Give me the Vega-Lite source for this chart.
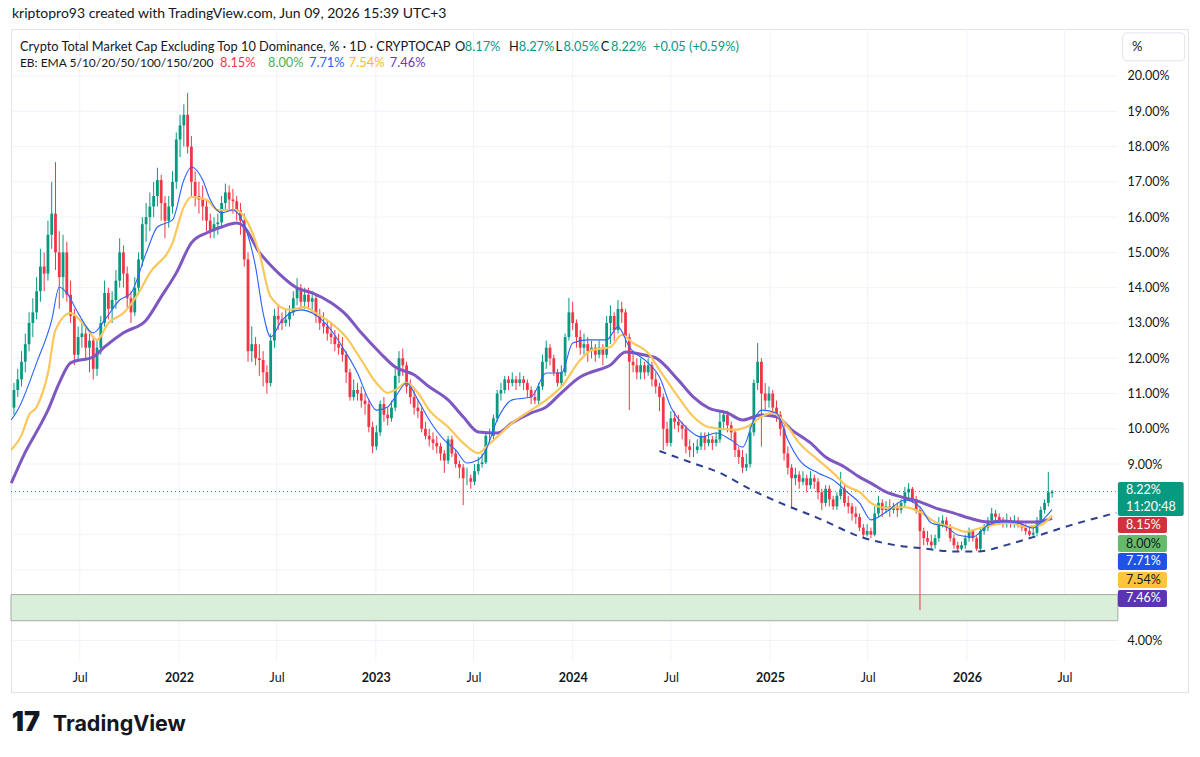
{
  "$schema": "https://vega.github.io/schema/vega-lite/v6.json",
  "width": 1177,
  "height": 663,
  "autosize": {"type": "none"},
  "padding": {"left": 11, "top": 29, "right": 12, "bottom": 65},
  "background": "#ffffff",
  "config": {"view": {"stroke": "#e0e3eb"}, "font": "Lato"},
  "title": {
    "text": "kriptopro93 created with TradingView.com, Jun 09, 2026 15:39 UTC+3",
    "anchor": "start", "frame": "group", "offset": 8, "dx": 1,
    "fontSize": 14, "fontWeight": "normal", "color": "#131722", "font": "Lato"
  },
  "datasets": {
    "hgrid": [{"v":4},{"v":5},{"v":6},{"v":7},{"v":8},{"v":9},{"v":10},{"v":11},{"v":12},{"v":13},{"v":14},{"v":15},{"v":16},{"v":17},{"v":18},{"v":19},{"v":20}],
    "vgrid": [{"t":"2021-07-01"},{"t":"2022-01-01"},{"t":"2022-07-01"},{"t":"2023-01-01"},{"t":"2023-07-01"},{"t":"2024-01-01"},{"t":"2024-07-01"},{"t":"2025-01-01"},{"t":"2025-07-01"},{"t":"2026-01-01"},{"t":"2026-07-01"}],
    "candles": [
      {"d":"2021-03-01","o":10.6,"h":11.3,"l":10.4,"c":11.1},
      {"d":"2021-03-08","o":11.1,"h":11.7,"l":10.9,"c":11.4},
      {"d":"2021-03-15","o":11.4,"h":12.2,"l":11.2,"c":11.9},
      {"d":"2021-03-22","o":11.9,"h":12.7,"l":11.6,"c":12.4},
      {"d":"2021-03-29","o":12.4,"h":13.3,"l":12.2,"c":13.0},
      {"d":"2021-04-05","o":13.0,"h":13.7,"l":12.6,"c":13.3},
      {"d":"2021-04-12","o":13.3,"h":14.3,"l":13.1,"c":13.9},
      {"d":"2021-04-19","o":13.9,"h":15.1,"l":13.6,"c":14.6},
      {"d":"2021-04-26","o":14.6,"h":15.0,"l":13.9,"c":14.4},
      {"d":"2021-05-03","o":14.4,"h":15.9,"l":14.2,"c":15.5},
      {"d":"2021-05-10","o":15.5,"h":17.0,"l":15.1,"c":16.1},
      {"d":"2021-05-17","o":16.1,"h":17.56,"l":14.5,"c":15.0},
      {"d":"2021-05-24","o":15.0,"h":15.6,"l":13.4,"c":14.3},
      {"d":"2021-05-31","o":14.3,"h":15.5,"l":13.7,"c":15.0},
      {"d":"2021-06-07","o":15.0,"h":15.3,"l":13.6,"c":13.8},
      {"d":"2021-06-14","o":13.8,"h":14.2,"l":13.0,"c":13.2},
      {"d":"2021-06-21","o":13.2,"h":13.4,"l":11.8,"c":12.1},
      {"d":"2021-06-28","o":12.1,"h":12.9,"l":11.9,"c":12.6},
      {"d":"2021-07-05","o":12.6,"h":13.1,"l":12.3,"c":12.7},
      {"d":"2021-07-12","o":12.7,"h":12.9,"l":12.0,"c":12.3},
      {"d":"2021-07-19","o":12.3,"h":12.8,"l":11.6,"c":12.5},
      {"d":"2021-07-26","o":12.5,"h":12.6,"l":11.4,"c":11.7},
      {"d":"2021-08-02","o":11.7,"h":12.5,"l":11.5,"c":12.3},
      {"d":"2021-08-09","o":12.3,"h":13.2,"l":12.1,"c":13.0},
      {"d":"2021-08-16","o":13.0,"h":14.2,"l":12.9,"c":13.85},
      {"d":"2021-08-23","o":13.85,"h":14.0,"l":13.1,"c":13.4},
      {"d":"2021-08-30","o":13.4,"h":13.9,"l":13.0,"c":13.65},
      {"d":"2021-09-06","o":13.65,"h":14.5,"l":13.4,"c":14.2},
      {"d":"2021-09-13","o":14.2,"h":15.4,"l":14.0,"c":15.0},
      {"d":"2021-09-20","o":15.0,"h":15.2,"l":14.0,"c":14.4},
      {"d":"2021-09-27","o":14.4,"h":14.6,"l":13.4,"c":13.7},
      {"d":"2021-10-04","o":13.7,"h":13.9,"l":13.0,"c":13.3},
      {"d":"2021-10-11","o":13.3,"h":14.3,"l":13.2,"c":14.0},
      {"d":"2021-10-18","o":14.0,"h":15.0,"l":13.8,"c":14.8},
      {"d":"2021-10-25","o":14.8,"h":16.0,"l":14.6,"c":15.8},
      {"d":"2021-11-01","o":15.8,"h":16.4,"l":15.3,"c":16.0},
      {"d":"2021-11-08","o":16.0,"h":16.7,"l":15.6,"c":16.3},
      {"d":"2021-11-15","o":16.3,"h":17.0,"l":16.0,"c":16.6},
      {"d":"2021-11-22","o":16.6,"h":17.4,"l":16.3,"c":17.05},
      {"d":"2021-11-29","o":17.05,"h":17.2,"l":15.9,"c":16.4},
      {"d":"2021-12-06","o":16.4,"h":16.6,"l":15.4,"c":15.9},
      {"d":"2021-12-13","o":15.9,"h":16.6,"l":15.7,"c":16.3},
      {"d":"2021-12-20","o":16.3,"h":17.3,"l":16.1,"c":17.0},
      {"d":"2021-12-27","o":17.0,"h":18.4,"l":16.8,"c":18.2},
      {"d":"2022-01-03","o":18.2,"h":18.9,"l":17.7,"c":18.6},
      {"d":"2022-01-10","o":18.6,"h":19.2,"l":18.0,"c":18.9},
      {"d":"2022-01-17","o":18.9,"h":19.52,"l":17.8,"c":18.0},
      {"d":"2022-01-24","o":18.0,"h":18.3,"l":16.6,"c":17.0},
      {"d":"2022-01-31","o":17.0,"h":17.3,"l":16.3,"c":16.6},
      {"d":"2022-02-07","o":16.6,"h":17.0,"l":16.1,"c":16.5},
      {"d":"2022-02-14","o":16.5,"h":16.9,"l":15.9,"c":16.3},
      {"d":"2022-02-21","o":16.3,"h":16.5,"l":15.6,"c":15.9},
      {"d":"2022-02-28","o":15.9,"h":16.1,"l":15.4,"c":15.6},
      {"d":"2022-03-07","o":15.6,"h":16.0,"l":15.4,"c":15.8},
      {"d":"2022-03-14","o":15.8,"h":16.1,"l":15.5,"c":15.85},
      {"d":"2022-03-21","o":15.85,"h":16.6,"l":15.7,"c":16.4},
      {"d":"2022-03-28","o":16.4,"h":16.95,"l":16.2,"c":16.7},
      {"d":"2022-04-04","o":16.7,"h":16.9,"l":16.2,"c":16.5},
      {"d":"2022-04-11","o":16.5,"h":16.8,"l":16.1,"c":16.45},
      {"d":"2022-04-18","o":16.45,"h":16.6,"l":15.9,"c":16.2},
      {"d":"2022-04-25","o":16.2,"h":16.4,"l":15.5,"c":15.9},
      {"d":"2022-05-02","o":15.9,"h":16.1,"l":14.6,"c":14.8},
      {"d":"2022-05-09","o":14.8,"h":15.0,"l":11.9,"c":12.2},
      {"d":"2022-05-16","o":12.2,"h":12.9,"l":11.9,"c":12.4},
      {"d":"2022-05-23","o":12.4,"h":12.6,"l":11.8,"c":12.0},
      {"d":"2022-05-30","o":12.0,"h":12.4,"l":11.5,"c":11.95},
      {"d":"2022-06-06","o":11.95,"h":12.2,"l":11.2,"c":11.6},
      {"d":"2022-06-13","o":11.6,"h":11.8,"l":11.0,"c":11.3},
      {"d":"2022-06-20","o":11.3,"h":12.7,"l":11.2,"c":12.5},
      {"d":"2022-06-27","o":12.5,"h":13.4,"l":12.3,"c":13.2},
      {"d":"2022-07-04","o":13.2,"h":13.5,"l":12.8,"c":13.1},
      {"d":"2022-07-11","o":13.1,"h":13.3,"l":12.8,"c":13.0},
      {"d":"2022-07-18","o":13.0,"h":13.4,"l":12.9,"c":13.1},
      {"d":"2022-07-25","o":13.1,"h":13.5,"l":12.9,"c":13.3},
      {"d":"2022-08-01","o":13.3,"h":13.9,"l":13.2,"c":13.7},
      {"d":"2022-08-08","o":13.7,"h":14.27,"l":13.5,"c":14.0},
      {"d":"2022-08-15","o":14.0,"h":14.1,"l":13.4,"c":13.6},
      {"d":"2022-08-22","o":13.6,"h":14.0,"l":13.4,"c":13.8},
      {"d":"2022-08-29","o":13.8,"h":14.0,"l":13.4,"c":13.6},
      {"d":"2022-09-05","o":13.6,"h":13.9,"l":13.3,"c":13.7},
      {"d":"2022-09-12","o":13.7,"h":13.8,"l":13.0,"c":13.2},
      {"d":"2022-09-19","o":13.2,"h":13.4,"l":12.8,"c":13.0},
      {"d":"2022-09-26","o":13.0,"h":13.3,"l":12.7,"c":12.9},
      {"d":"2022-10-03","o":12.9,"h":13.1,"l":12.5,"c":12.7},
      {"d":"2022-10-10","o":12.7,"h":13.0,"l":12.4,"c":12.6},
      {"d":"2022-10-17","o":12.6,"h":12.8,"l":12.2,"c":12.4},
      {"d":"2022-10-24","o":12.4,"h":12.7,"l":12.1,"c":12.3},
      {"d":"2022-10-31","o":12.3,"h":12.6,"l":11.9,"c":12.1},
      {"d":"2022-11-07","o":12.1,"h":12.2,"l":11.3,"c":11.6},
      {"d":"2022-11-14","o":11.6,"h":11.7,"l":10.8,"c":10.9},
      {"d":"2022-11-21","o":10.9,"h":11.4,"l":10.8,"c":11.1},
      {"d":"2022-11-28","o":11.1,"h":11.3,"l":10.8,"c":11.0},
      {"d":"2022-12-05","o":11.0,"h":11.2,"l":10.6,"c":10.8},
      {"d":"2022-12-12","o":10.8,"h":11.0,"l":10.4,"c":10.7},
      {"d":"2022-12-19","o":10.7,"h":10.8,"l":9.9,"c":10.05},
      {"d":"2022-12-26","o":10.05,"h":10.2,"l":9.31,"c":9.5},
      {"d":"2023-01-02","o":9.5,"h":10.1,"l":9.4,"c":9.9},
      {"d":"2023-01-09","o":9.9,"h":10.8,"l":9.8,"c":10.7},
      {"d":"2023-01-16","o":10.7,"h":10.9,"l":10.2,"c":10.4},
      {"d":"2023-01-23","o":10.4,"h":10.6,"l":10.1,"c":10.3},
      {"d":"2023-01-30","o":10.3,"h":10.8,"l":10.2,"c":10.6},
      {"d":"2023-02-06","o":10.6,"h":11.7,"l":10.5,"c":11.5},
      {"d":"2023-02-13","o":11.5,"h":12.2,"l":11.3,"c":12.0},
      {"d":"2023-02-20","o":12.0,"h":12.27,"l":11.5,"c":11.8},
      {"d":"2023-02-27","o":11.8,"h":11.9,"l":11.0,"c":11.2},
      {"d":"2023-03-06","o":11.2,"h":11.4,"l":10.7,"c":10.9},
      {"d":"2023-03-13","o":10.9,"h":11.1,"l":10.4,"c":10.6},
      {"d":"2023-03-20","o":10.6,"h":10.8,"l":10.3,"c":10.5},
      {"d":"2023-03-27","o":10.5,"h":10.6,"l":9.9,"c":10.0},
      {"d":"2023-04-03","o":10.0,"h":10.2,"l":9.7,"c":9.8},
      {"d":"2023-04-10","o":9.8,"h":10.0,"l":9.5,"c":9.7},
      {"d":"2023-04-17","o":9.7,"h":9.9,"l":9.4,"c":9.6},
      {"d":"2023-04-24","o":9.6,"h":9.8,"l":9.3,"c":9.5},
      {"d":"2023-05-01","o":9.5,"h":9.6,"l":9.1,"c":9.3},
      {"d":"2023-05-08","o":9.3,"h":9.4,"l":8.75,"c":9.1},
      {"d":"2023-05-15","o":9.1,"h":9.8,"l":9.0,"c":9.7},
      {"d":"2023-05-22","o":9.7,"h":9.8,"l":9.2,"c":9.3},
      {"d":"2023-05-29","o":9.3,"h":9.4,"l":8.9,"c":9.0},
      {"d":"2023-06-05","o":9.0,"h":9.1,"l":8.6,"c":8.9},
      {"d":"2023-06-12","o":8.9,"h":9.0,"l":7.84,"c":8.6},
      {"d":"2023-06-19","o":8.6,"h":8.9,"l":8.4,"c":8.6},
      {"d":"2023-06-26","o":8.6,"h":8.7,"l":8.3,"c":8.5},
      {"d":"2023-07-03","o":8.5,"h":9.0,"l":8.4,"c":8.8},
      {"d":"2023-07-10","o":8.8,"h":9.2,"l":8.7,"c":9.0},
      {"d":"2023-07-17","o":9.0,"h":9.3,"l":8.9,"c":9.05},
      {"d":"2023-07-24","o":9.05,"h":9.9,"l":9.0,"c":9.8},
      {"d":"2023-07-31","o":9.8,"h":10.0,"l":9.6,"c":9.8},
      {"d":"2023-08-07","o":9.8,"h":10.4,"l":9.7,"c":10.3},
      {"d":"2023-08-14","o":10.3,"h":11.1,"l":10.2,"c":11.0},
      {"d":"2023-08-21","o":11.0,"h":11.3,"l":10.8,"c":11.1},
      {"d":"2023-08-28","o":11.1,"h":11.5,"l":11.0,"c":11.4},
      {"d":"2023-09-04","o":11.4,"h":11.5,"l":11.1,"c":11.3},
      {"d":"2023-09-11","o":11.3,"h":11.6,"l":11.2,"c":11.4},
      {"d":"2023-09-18","o":11.4,"h":11.5,"l":11.1,"c":11.3},
      {"d":"2023-09-25","o":11.3,"h":11.6,"l":11.2,"c":11.4},
      {"d":"2023-10-02","o":11.4,"h":11.5,"l":11.1,"c":11.3},
      {"d":"2023-10-09","o":11.3,"h":11.4,"l":10.9,"c":11.1},
      {"d":"2023-10-16","o":11.1,"h":11.2,"l":10.7,"c":10.9},
      {"d":"2023-10-23","o":10.9,"h":11.1,"l":10.7,"c":10.8},
      {"d":"2023-10-30","o":10.8,"h":11.3,"l":10.7,"c":11.2},
      {"d":"2023-11-06","o":11.2,"h":12.1,"l":11.1,"c":11.9},
      {"d":"2023-11-13","o":11.9,"h":12.5,"l":11.7,"c":12.3},
      {"d":"2023-11-20","o":12.3,"h":12.4,"l":11.8,"c":12.0},
      {"d":"2023-11-27","o":12.0,"h":12.1,"l":11.5,"c":11.6},
      {"d":"2023-12-04","o":11.6,"h":11.7,"l":11.2,"c":11.3},
      {"d":"2023-12-11","o":11.3,"h":11.8,"l":11.2,"c":11.6},
      {"d":"2023-12-18","o":11.6,"h":12.7,"l":11.5,"c":12.6},
      {"d":"2023-12-25","o":12.6,"h":13.71,"l":12.5,"c":13.3},
      {"d":"2024-01-01","o":13.3,"h":13.6,"l":12.8,"c":13.0},
      {"d":"2024-01-08","o":13.0,"h":13.1,"l":12.3,"c":12.6},
      {"d":"2024-01-15","o":12.6,"h":12.8,"l":12.1,"c":12.3},
      {"d":"2024-01-22","o":12.3,"h":12.7,"l":12.1,"c":12.4},
      {"d":"2024-01-29","o":12.4,"h":12.6,"l":11.9,"c":12.2},
      {"d":"2024-02-05","o":12.2,"h":12.5,"l":12.0,"c":12.3},
      {"d":"2024-02-12","o":12.3,"h":12.4,"l":11.9,"c":12.1},
      {"d":"2024-02-19","o":12.1,"h":12.5,"l":12.0,"c":12.3},
      {"d":"2024-02-26","o":12.3,"h":12.4,"l":11.8,"c":12.1},
      {"d":"2024-03-04","o":12.1,"h":13.2,"l":12.0,"c":13.0},
      {"d":"2024-03-11","o":13.0,"h":13.5,"l":12.4,"c":13.2},
      {"d":"2024-03-18","o":13.2,"h":13.3,"l":12.5,"c":12.8},
      {"d":"2024-03-25","o":12.8,"h":13.65,"l":12.7,"c":13.4},
      {"d":"2024-04-01","o":13.4,"h":13.6,"l":13.0,"c":13.3},
      {"d":"2024-04-08","o":13.3,"h":13.4,"l":12.3,"c":12.6},
      {"d":"2024-04-15","o":12.6,"h":12.7,"l":10.53,"c":11.9},
      {"d":"2024-04-22","o":11.9,"h":12.2,"l":11.6,"c":11.8},
      {"d":"2024-04-29","o":11.8,"h":12.0,"l":11.4,"c":11.6},
      {"d":"2024-05-06","o":11.6,"h":12.0,"l":11.4,"c":11.8},
      {"d":"2024-05-13","o":11.8,"h":11.9,"l":11.4,"c":11.6},
      {"d":"2024-05-20","o":11.6,"h":12.0,"l":11.5,"c":11.8},
      {"d":"2024-05-27","o":11.8,"h":11.9,"l":11.2,"c":11.4},
      {"d":"2024-06-03","o":11.4,"h":11.6,"l":11.0,"c":11.2},
      {"d":"2024-06-10","o":11.2,"h":11.3,"l":10.5,"c":10.9},
      {"d":"2024-06-17","o":10.9,"h":11.0,"l":9.4,"c":10.0},
      {"d":"2024-06-24","o":10.0,"h":10.2,"l":9.5,"c":9.6},
      {"d":"2024-07-01","o":9.6,"h":10.5,"l":9.5,"c":10.3},
      {"d":"2024-07-08","o":10.3,"h":10.5,"l":10.0,"c":10.2},
      {"d":"2024-07-15","o":10.2,"h":10.4,"l":9.9,"c":10.1},
      {"d":"2024-07-22","o":10.1,"h":10.2,"l":9.7,"c":10.0},
      {"d":"2024-07-29","o":10.0,"h":10.1,"l":9.3,"c":9.5},
      {"d":"2024-08-05","o":9.5,"h":9.7,"l":9.2,"c":9.4},
      {"d":"2024-08-12","o":9.4,"h":9.6,"l":9.2,"c":9.4},
      {"d":"2024-08-19","o":9.4,"h":9.7,"l":9.3,"c":9.5},
      {"d":"2024-08-26","o":9.5,"h":9.9,"l":9.4,"c":9.8},
      {"d":"2024-09-02","o":9.8,"h":9.9,"l":9.4,"c":9.6},
      {"d":"2024-09-09","o":9.6,"h":9.9,"l":9.5,"c":9.7},
      {"d":"2024-09-16","o":9.7,"h":9.8,"l":9.4,"c":9.6},
      {"d":"2024-09-23","o":9.6,"h":9.9,"l":9.5,"c":9.7},
      {"d":"2024-09-30","o":9.7,"h":10.5,"l":9.6,"c":10.2},
      {"d":"2024-10-07","o":10.2,"h":10.5,"l":10.0,"c":10.4},
      {"d":"2024-10-14","o":10.4,"h":10.5,"l":9.9,"c":10.1},
      {"d":"2024-10-21","o":10.1,"h":10.2,"l":9.7,"c":9.9},
      {"d":"2024-10-28","o":9.9,"h":10.0,"l":9.2,"c":9.4},
      {"d":"2024-11-04","o":9.4,"h":9.5,"l":9.0,"c":9.2},
      {"d":"2024-11-11","o":9.2,"h":9.4,"l":8.75,"c":8.9},
      {"d":"2024-11-18","o":8.9,"h":9.3,"l":8.8,"c":9.0},
      {"d":"2024-11-25","o":9.0,"h":10.1,"l":8.9,"c":9.9},
      {"d":"2024-12-02","o":9.9,"h":11.4,"l":9.8,"c":11.3},
      {"d":"2024-12-09","o":11.3,"h":12.43,"l":11.1,"c":11.9},
      {"d":"2024-12-16","o":11.9,"h":12.0,"l":9.5,"c":11.0},
      {"d":"2024-12-23","o":11.0,"h":11.3,"l":10.5,"c":10.8},
      {"d":"2024-12-30","o":10.8,"h":11.2,"l":10.6,"c":11.0},
      {"d":"2025-01-06","o":11.0,"h":11.1,"l":10.4,"c":10.6},
      {"d":"2025-01-13","o":10.6,"h":10.8,"l":10.2,"c":10.4},
      {"d":"2025-01-20","o":10.4,"h":10.5,"l":9.8,"c":10.0},
      {"d":"2025-01-27","o":10.0,"h":10.1,"l":9.1,"c":9.3},
      {"d":"2025-02-03","o":9.3,"h":9.5,"l":8.7,"c":8.9},
      {"d":"2025-02-10","o":8.9,"h":9.0,"l":7.78,"c":8.6},
      {"d":"2025-02-17","o":8.6,"h":8.9,"l":8.4,"c":8.7},
      {"d":"2025-02-24","o":8.7,"h":8.8,"l":8.3,"c":8.5},
      {"d":"2025-03-03","o":8.5,"h":8.8,"l":8.4,"c":8.6},
      {"d":"2025-03-10","o":8.6,"h":8.7,"l":8.2,"c":8.4},
      {"d":"2025-03-17","o":8.4,"h":8.8,"l":8.3,"c":8.6},
      {"d":"2025-03-24","o":8.6,"h":8.7,"l":8.3,"c":8.5},
      {"d":"2025-03-31","o":8.5,"h":8.6,"l":8.0,"c":8.2},
      {"d":"2025-04-07","o":8.2,"h":8.3,"l":7.7,"c":7.9},
      {"d":"2025-04-14","o":7.9,"h":8.4,"l":7.8,"c":8.3},
      {"d":"2025-04-21","o":8.3,"h":8.4,"l":7.8,"c":8.0},
      {"d":"2025-04-28","o":8.0,"h":8.1,"l":7.7,"c":7.8},
      {"d":"2025-05-05","o":7.8,"h":8.2,"l":7.7,"c":8.1},
      {"d":"2025-05-12","o":8.1,"h":8.78,"l":8.0,"c":8.3},
      {"d":"2025-05-19","o":8.3,"h":8.4,"l":7.8,"c":7.9},
      {"d":"2025-05-26","o":7.9,"h":8.1,"l":7.6,"c":7.8},
      {"d":"2025-06-02","o":7.8,"h":7.9,"l":7.4,"c":7.6},
      {"d":"2025-06-09","o":7.6,"h":7.8,"l":7.3,"c":7.5},
      {"d":"2025-06-16","o":7.5,"h":7.6,"l":7.1,"c":7.2},
      {"d":"2025-06-23","o":7.2,"h":7.3,"l":6.9,"c":7.0},
      {"d":"2025-06-30","o":7.0,"h":7.3,"l":6.95,"c":7.1},
      {"d":"2025-07-07","o":7.1,"h":7.2,"l":6.9,"c":7.0},
      {"d":"2025-07-14","o":7.0,"h":7.8,"l":6.95,"c":7.6},
      {"d":"2025-07-21","o":7.6,"h":8.1,"l":7.5,"c":7.9},
      {"d":"2025-07-28","o":7.9,"h":8.0,"l":7.5,"c":7.7},
      {"d":"2025-08-04","o":7.7,"h":7.95,"l":7.6,"c":7.8},
      {"d":"2025-08-11","o":7.8,"h":8.0,"l":7.5,"c":7.7},
      {"d":"2025-08-18","o":7.7,"h":7.9,"l":7.6,"c":7.8},
      {"d":"2025-08-25","o":7.8,"h":7.9,"l":7.5,"c":7.7},
      {"d":"2025-09-01","o":7.7,"h":8.0,"l":7.6,"c":7.9},
      {"d":"2025-09-08","o":7.9,"h":8.35,"l":7.8,"c":8.2},
      {"d":"2025-09-15","o":8.2,"h":8.46,"l":8.0,"c":8.3},
      {"d":"2025-09-22","o":8.3,"h":8.35,"l":7.9,"c":8.0},
      {"d":"2025-09-29","o":8.0,"h":8.1,"l":7.6,"c":7.7},
      {"d":"2025-10-06","o":7.7,"h":7.8,"l":4.86,"c":7.1},
      {"d":"2025-10-13","o":7.1,"h":7.2,"l":6.7,"c":6.9},
      {"d":"2025-10-20","o":6.9,"h":7.1,"l":6.7,"c":6.8},
      {"d":"2025-10-27","o":6.8,"h":7.0,"l":6.6,"c":6.7},
      {"d":"2025-11-03","o":6.7,"h":7.0,"l":6.6,"c":6.9},
      {"d":"2025-11-10","o":6.9,"h":7.5,"l":6.8,"c":7.3},
      {"d":"2025-11-17","o":7.3,"h":7.55,"l":7.2,"c":7.4},
      {"d":"2025-11-24","o":7.4,"h":7.5,"l":7.1,"c":7.2},
      {"d":"2025-12-01","o":7.2,"h":7.3,"l":6.8,"c":6.9},
      {"d":"2025-12-08","o":6.9,"h":7.0,"l":6.6,"c":6.7},
      {"d":"2025-12-15","o":6.7,"h":6.8,"l":6.51,"c":6.6},
      {"d":"2025-12-22","o":6.6,"h":6.8,"l":6.55,"c":6.7},
      {"d":"2025-12-29","o":6.7,"h":7.0,"l":6.6,"c":6.9},
      {"d":"2026-01-05","o":6.9,"h":7.2,"l":6.8,"c":7.1},
      {"d":"2026-01-12","o":7.1,"h":7.15,"l":6.8,"c":6.9},
      {"d":"2026-01-19","o":6.9,"h":6.95,"l":6.54,"c":6.6},
      {"d":"2026-01-26","o":6.6,"h":7.2,"l":6.55,"c":7.1},
      {"d":"2026-02-02","o":7.1,"h":7.3,"l":7.0,"c":7.2},
      {"d":"2026-02-09","o":7.2,"h":7.5,"l":7.1,"c":7.4},
      {"d":"2026-02-16","o":7.4,"h":7.76,"l":7.3,"c":7.6},
      {"d":"2026-02-23","o":7.6,"h":7.7,"l":7.4,"c":7.5},
      {"d":"2026-03-02","o":7.5,"h":7.6,"l":7.3,"c":7.4},
      {"d":"2026-03-09","o":7.4,"h":7.5,"l":7.2,"c":7.3},
      {"d":"2026-03-16","o":7.3,"h":7.6,"l":7.2,"c":7.4},
      {"d":"2026-03-23","o":7.4,"h":7.5,"l":7.2,"c":7.3},
      {"d":"2026-03-30","o":7.3,"h":7.55,"l":7.2,"c":7.4},
      {"d":"2026-04-06","o":7.4,"h":7.5,"l":7.2,"c":7.3},
      {"d":"2026-04-13","o":7.3,"h":7.4,"l":7.1,"c":7.2},
      {"d":"2026-04-20","o":7.2,"h":7.3,"l":7.0,"c":7.1},
      {"d":"2026-04-27","o":7.1,"h":7.2,"l":6.95,"c":7.0},
      {"d":"2026-05-04","o":7.0,"h":7.2,"l":6.93,"c":7.05},
      {"d":"2026-05-11","o":7.05,"h":7.5,"l":6.95,"c":7.4},
      {"d":"2026-05-18","o":7.4,"h":7.8,"l":7.3,"c":7.7},
      {"d":"2026-05-25","o":7.7,"h":8.0,"l":7.6,"c":7.9},
      {"d":"2026-06-01","o":7.9,"h":8.78,"l":7.8,"c":8.2},
      {"d":"2026-06-08","o":8.17,"h":8.27,"l":8.05,"c":8.22}
    ],
    "ema": [
      {"s":"EMA 20","d":"2021-02-24","v":10.25},{"s":"EMA 20","d":"2021-03-08","v":10.53},{"s":"EMA 20","d":"2021-04-12","v":11.87},{"s":"EMA 20","d":"2021-05-10","v":13.08},{"s":"EMA 20","d":"2021-05-24","v":14.02},{"s":"EMA 20","d":"2021-06-07","v":13.85},{"s":"EMA 20","d":"2021-06-28","v":13.28},{"s":"EMA 20","d":"2021-07-26","v":12.72},{"s":"EMA 20","d":"2021-08-16","v":13.08},{"s":"EMA 20","d":"2021-09-13","v":13.65},{"s":"EMA 20","d":"2021-10-04","v":13.85},{"s":"EMA 20","d":"2021-11-01","v":14.98},{"s":"EMA 20","d":"2021-11-22","v":15.72},{"s":"EMA 20","d":"2021-12-20","v":15.92},{"s":"EMA 20","d":"2022-01-10","v":17.05},{"s":"EMA 20","d":"2022-01-24","v":17.42},{"s":"EMA 20","d":"2022-02-14","v":17.05},{"s":"EMA 20","d":"2022-02-28","v":16.49},{"s":"EMA 20","d":"2022-03-21","v":16.12},{"s":"EMA 20","d":"2022-04-11","v":16.2},{"s":"EMA 20","d":"2022-04-25","v":16.0},{"s":"EMA 20","d":"2022-05-23","v":14.59},{"s":"EMA 20","d":"2022-06-06","v":13.28},{"s":"EMA 20","d":"2022-06-20","v":12.6},{"s":"EMA 20","d":"2022-07-11","v":13.08},{"s":"EMA 20","d":"2022-08-15","v":13.37},{"s":"EMA 20","d":"2022-09-05","v":13.28},{"s":"EMA 20","d":"2022-10-10","v":12.8},{"s":"EMA 20","d":"2022-10-31","v":12.32},{"s":"EMA 20","d":"2022-11-28","v":11.58},{"s":"EMA 20","d":"2022-12-19","v":10.82},{"s":"EMA 20","d":"2023-01-02","v":10.53},{"s":"EMA 20","d":"2023-01-23","v":10.62},{"s":"EMA 20","d":"2023-02-06","v":10.9},{"s":"EMA 20","d":"2023-02-27","v":11.3},{"s":"EMA 20","d":"2023-03-20","v":10.82},{"s":"EMA 20","d":"2023-04-10","v":10.25},{"s":"EMA 20","d":"2023-05-08","v":9.68},{"s":"EMA 20","d":"2023-05-29","v":9.4},{"s":"EMA 20","d":"2023-06-19","v":9.03},{"s":"EMA 20","d":"2023-07-10","v":9.12},{"s":"EMA 20","d":"2023-07-24","v":9.4},{"s":"EMA 20","d":"2023-08-14","v":10.25},{"s":"EMA 20","d":"2023-09-11","v":10.82},{"s":"EMA 20","d":"2023-10-16","v":10.9},{"s":"EMA 20","d":"2023-11-13","v":11.58},{"s":"EMA 20","d":"2023-12-11","v":11.58},{"s":"EMA 20","d":"2024-01-01","v":12.43},{"s":"EMA 20","d":"2024-01-29","v":12.52},{"s":"EMA 20","d":"2024-03-04","v":12.52},{"s":"EMA 20","d":"2024-03-25","v":12.89},{"s":"EMA 20","d":"2024-04-15","v":12.32},{"s":"EMA 20","d":"2024-05-20","v":11.87},{"s":"EMA 20","d":"2024-06-10","v":11.47},{"s":"EMA 20","d":"2024-07-01","v":10.62},{"s":"EMA 20","d":"2024-07-29","v":10.05},{"s":"EMA 20","d":"2024-08-26","v":9.77},{"s":"EMA 20","d":"2024-09-23","v":9.88},{"s":"EMA 20","d":"2024-10-21","v":9.68},{"s":"EMA 20","d":"2024-11-11","v":9.48},{"s":"EMA 20","d":"2024-12-02","v":10.25},{"s":"EMA 20","d":"2024-12-16","v":10.53},{"s":"EMA 20","d":"2025-01-13","v":10.45},{"s":"EMA 20","d":"2025-02-03","v":9.68},{"s":"EMA 20","d":"2025-02-24","v":9.12},{"s":"EMA 20","d":"2025-03-31","v":8.75},{"s":"EMA 20","d":"2025-04-28","v":8.55},{"s":"EMA 20","d":"2025-05-26","v":8.18},{"s":"EMA 20","d":"2025-06-16","v":7.9},{"s":"EMA 20","d":"2025-07-07","v":7.42},{"s":"EMA 20","d":"2025-08-04","v":7.64},{"s":"EMA 20","d":"2025-09-08","v":7.98},{"s":"EMA 20","d":"2025-10-06","v":7.78},{"s":"EMA 20","d":"2025-10-27","v":7.33},{"s":"EMA 20","d":"2025-11-24","v":7.22},{"s":"EMA 20","d":"2025-12-15","v":6.99},{"s":"EMA 20","d":"2026-01-12","v":6.93},{"s":"EMA 20","d":"2026-02-09","v":7.27},{"s":"EMA 20","d":"2026-03-09","v":7.36},{"s":"EMA 20","d":"2026-04-06","v":7.33},{"s":"EMA 20","d":"2026-05-04","v":7.19},{"s":"EMA 20","d":"2026-05-25","v":7.47},{"s":"EMA 20","d":"2026-06-08","v":7.71},
      {"s":"EMA 50","d":"2021-02-24","v":9.4},{"s":"EMA 50","d":"2021-03-15","v":9.82},{"s":"EMA 50","d":"2021-03-29","v":10.39},{"s":"EMA 50","d":"2021-04-12","v":10.62},{"s":"EMA 50","d":"2021-05-03","v":11.58},{"s":"EMA 50","d":"2021-05-17","v":12.8},{"s":"EMA 50","d":"2021-06-14","v":13.28},{"s":"EMA 50","d":"2021-07-12","v":12.89},{"s":"EMA 50","d":"2021-08-02","v":12.52},{"s":"EMA 50","d":"2021-08-23","v":13.0},{"s":"EMA 50","d":"2021-09-20","v":13.28},{"s":"EMA 50","d":"2021-10-18","v":13.85},{"s":"EMA 50","d":"2021-11-08","v":14.42},{"s":"EMA 50","d":"2021-12-20","v":15.27},{"s":"EMA 50","d":"2022-01-10","v":16.29},{"s":"EMA 50","d":"2022-01-24","v":16.57},{"s":"EMA 50","d":"2022-02-21","v":16.49},{"s":"EMA 50","d":"2022-03-14","v":16.2},{"s":"EMA 50","d":"2022-04-18","v":16.2},{"s":"EMA 50","d":"2022-05-09","v":15.83},{"s":"EMA 50","d":"2022-05-30","v":14.98},{"s":"EMA 50","d":"2022-06-20","v":13.74},{"s":"EMA 50","d":"2022-07-25","v":13.37},{"s":"EMA 50","d":"2022-08-22","v":13.45},{"s":"EMA 50","d":"2022-09-12","v":13.28},{"s":"EMA 50","d":"2022-10-10","v":13.0},{"s":"EMA 50","d":"2022-11-07","v":12.6},{"s":"EMA 50","d":"2022-12-05","v":11.95},{"s":"EMA 50","d":"2023-01-02","v":11.3},{"s":"EMA 50","d":"2023-01-23","v":11.02},{"s":"EMA 50","d":"2023-02-06","v":11.1},{"s":"EMA 50","d":"2023-02-27","v":11.3},{"s":"EMA 50","d":"2023-03-20","v":11.02},{"s":"EMA 50","d":"2023-04-10","v":10.53},{"s":"EMA 50","d":"2023-05-15","v":10.05},{"s":"EMA 50","d":"2023-06-12","v":9.6},{"s":"EMA 50","d":"2023-07-10","v":9.31},{"s":"EMA 50","d":"2023-07-24","v":9.48},{"s":"EMA 50","d":"2023-08-14","v":9.77},{"s":"EMA 50","d":"2023-09-11","v":10.17},{"s":"EMA 50","d":"2023-10-16","v":10.53},{"s":"EMA 50","d":"2023-11-13","v":10.82},{"s":"EMA 50","d":"2023-12-11","v":11.19},{"s":"EMA 50","d":"2024-01-15","v":11.95},{"s":"EMA 50","d":"2024-02-05","v":12.23},{"s":"EMA 50","d":"2024-03-11","v":12.32},{"s":"EMA 50","d":"2024-04-01","v":12.66},{"s":"EMA 50","d":"2024-04-22","v":12.43},{"s":"EMA 50","d":"2024-05-20","v":12.15},{"s":"EMA 50","d":"2024-06-10","v":11.67},{"s":"EMA 50","d":"2024-07-15","v":10.9},{"s":"EMA 50","d":"2024-08-12","v":10.34},{"s":"EMA 50","d":"2024-09-09","v":10.05},{"s":"EMA 50","d":"2024-10-28","v":9.97},{"s":"EMA 50","d":"2024-11-18","v":10.05},{"s":"EMA 50","d":"2024-12-16","v":10.34},{"s":"EMA 50","d":"2025-01-06","v":10.45},{"s":"EMA 50","d":"2025-02-03","v":10.05},{"s":"EMA 50","d":"2025-02-24","v":9.6},{"s":"EMA 50","d":"2025-03-31","v":9.12},{"s":"EMA 50","d":"2025-04-28","v":8.75},{"s":"EMA 50","d":"2025-05-26","v":8.35},{"s":"EMA 50","d":"2025-06-16","v":8.21},{"s":"EMA 50","d":"2025-07-07","v":7.9},{"s":"EMA 50","d":"2025-08-04","v":7.76},{"s":"EMA 50","d":"2025-09-08","v":7.78},{"s":"EMA 50","d":"2025-10-06","v":7.64},{"s":"EMA 50","d":"2025-11-03","v":7.36},{"s":"EMA 50","d":"2025-12-08","v":7.19},{"s":"EMA 50","d":"2025-12-29","v":7.08},{"s":"EMA 50","d":"2026-01-26","v":7.19},{"s":"EMA 50","d":"2026-02-16","v":7.27},{"s":"EMA 50","d":"2026-03-23","v":7.33},{"s":"EMA 50","d":"2026-04-20","v":7.22},{"s":"EMA 50","d":"2026-05-18","v":7.27},{"s":"EMA 50","d":"2026-06-08","v":7.54},
      {"s":"EMA 100","d":"2021-02-24","v":8.46},{"s":"EMA 100","d":"2021-03-22","v":9.34},{"s":"EMA 100","d":"2021-04-19","v":10.11},{"s":"EMA 100","d":"2021-05-03","v":10.53},{"s":"EMA 100","d":"2021-05-24","v":11.3},{"s":"EMA 100","d":"2021-06-14","v":11.87},{"s":"EMA 100","d":"2021-07-26","v":12.04},{"s":"EMA 100","d":"2021-08-16","v":12.32},{"s":"EMA 100","d":"2021-09-20","v":12.72},{"s":"EMA 100","d":"2021-11-01","v":13.08},{"s":"EMA 100","d":"2021-11-29","v":13.74},{"s":"EMA 100","d":"2021-12-27","v":14.42},{"s":"EMA 100","d":"2022-01-24","v":15.27},{"s":"EMA 100","d":"2022-02-21","v":15.55},{"s":"EMA 100","d":"2022-03-21","v":15.72},{"s":"EMA 100","d":"2022-04-18","v":15.83},{"s":"EMA 100","d":"2022-05-02","v":15.72},{"s":"EMA 100","d":"2022-05-30","v":15.0},{"s":"EMA 100","d":"2022-06-13","v":14.75},{"s":"EMA 100","d":"2022-07-04","v":14.42},{"s":"EMA 100","d":"2022-08-08","v":13.99},{"s":"EMA 100","d":"2022-09-05","v":13.85},{"s":"EMA 100","d":"2022-10-10","v":13.57},{"s":"EMA 100","d":"2022-11-07","v":13.23},{"s":"EMA 100","d":"2022-12-05","v":12.72},{"s":"EMA 100","d":"2023-01-09","v":12.15},{"s":"EMA 100","d":"2023-02-06","v":11.75},{"s":"EMA 100","d":"2023-03-13","v":11.53},{"s":"EMA 100","d":"2023-04-10","v":11.19},{"s":"EMA 100","d":"2023-05-15","v":10.82},{"s":"EMA 100","d":"2023-06-12","v":10.34},{"s":"EMA 100","d":"2023-07-10","v":9.91},{"s":"EMA 100","d":"2023-08-14","v":9.88},{"s":"EMA 100","d":"2023-09-11","v":10.17},{"s":"EMA 100","d":"2023-10-16","v":10.45},{"s":"EMA 100","d":"2023-11-13","v":10.62},{"s":"EMA 100","d":"2023-12-11","v":11.02},{"s":"EMA 100","d":"2024-01-15","v":11.47},{"s":"EMA 100","d":"2024-02-05","v":11.61},{"s":"EMA 100","d":"2024-03-11","v":11.81},{"s":"EMA 100","d":"2024-04-08","v":12.18},{"s":"EMA 100","d":"2024-05-13","v":12.09},{"s":"EMA 100","d":"2024-06-03","v":12.01},{"s":"EMA 100","d":"2024-07-15","v":11.38},{"s":"EMA 100","d":"2024-08-12","v":10.9},{"s":"EMA 100","d":"2024-09-09","v":10.59},{"s":"EMA 100","d":"2024-10-14","v":10.45},{"s":"EMA 100","d":"2024-11-11","v":10.25},{"s":"EMA 100","d":"2024-12-16","v":10.39},{"s":"EMA 100","d":"2025-01-13","v":10.34},{"s":"EMA 100","d":"2025-02-10","v":9.97},{"s":"EMA 100","d":"2025-03-17","v":9.6},{"s":"EMA 100","d":"2025-04-14","v":9.2},{"s":"EMA 100","d":"2025-05-19","v":8.92},{"s":"EMA 100","d":"2025-06-16","v":8.63},{"s":"EMA 100","d":"2025-07-07","v":8.46},{"s":"EMA 100","d":"2025-08-04","v":8.21},{"s":"EMA 100","d":"2025-09-01","v":8.07},{"s":"EMA 100","d":"2025-10-06","v":7.93},{"s":"EMA 100","d":"2025-11-03","v":7.76},{"s":"EMA 100","d":"2025-12-08","v":7.61},{"s":"EMA 100","d":"2026-01-05","v":7.47},{"s":"EMA 100","d":"2026-02-09","v":7.36},{"s":"EMA 100","d":"2026-03-09","v":7.39},{"s":"EMA 100","d":"2026-04-06","v":7.36},{"s":"EMA 100","d":"2026-05-11","v":7.36},{"s":"EMA 100","d":"2026-06-08","v":7.46}
    ],
    "trend": [
      {"d":"2024-06-10","v":9.37},{"d":"2024-08-05","v":9.06},{"d":"2024-09-30","v":8.75},{"d":"2024-11-25","v":8.29},{"d":"2025-01-20","v":7.9},{"d":"2025-03-31","v":7.47},{"d":"2025-06-23","v":6.91},{"d":"2025-08-18","v":6.71},{"d":"2025-10-06","v":6.62},{"d":"2025-12-15","v":6.52},{"d":"2026-01-19","v":6.52},{"d":"2026-03-16","v":6.71},{"d":"2026-05-04","v":6.93},{"d":"2026-07-13","v":7.27},{"d":"2026-10-05","v":7.62}
    ]
  },
  "layer": [
    {
      "data": {"name": "hgrid"},
      "mark": {"type": "rule", "color": "#f0f3fa", "strokeWidth": 1},
      "encoding": {
        "y": {
          "field": "v", "type": "quantitative",
          "scale": {"domain": [2.54, 21.332], "nice": false, "zero": false, "padding": 0},
          "axis": {
            "orient": "right", "offset": -70, "title": null,
            "values": [4, 9, 10, 11, 12, 13, 14, 15, 16, 17, 18, 19, 20],
            "labelExpr": "format(datum.value, '.2f') + '%'",
            "grid": false, "ticks": false, "domain": false,
            "labelPadding": 9, "labelFontSize": 12.5, "labelColor": "#131722",
            "labelFont": "Lato", "labelAlign": "left", "labelBaseline": "middle"
          }
        },
        "x": {
          "datum": {"year": 2021, "month": 2, "date": 23, "hours": 12}, "type": "temporal",
          "scale": {"domain": [{"year": 2021, "month": 2, "date": 23, "hours": 12}, {"year": 2027, "month": 2, "date": 15}], "nice": false, "padding": 0},
          "axis": {
            "orient": "bottom", "offset": -30, "title": null,
            "values": [
              {"year": 2021, "month": 7, "date": 1}, {"year": 2022, "month": 1, "date": 1},
              {"year": 2022, "month": 7, "date": 1}, {"year": 2023, "month": 1, "date": 1},
              {"year": 2023, "month": 7, "date": 1}, {"year": 2024, "month": 1, "date": 1},
              {"year": 2024, "month": 7, "date": 1}, {"year": 2025, "month": 1, "date": 1},
              {"year": 2025, "month": 7, "date": 1}, {"year": 2026, "month": 1, "date": 1},
              {"year": 2026, "month": 7, "date": 1}
            ],
            "labelExpr": "month(datum.value) == 0 ? timeFormat(datum.value, '%Y') : 'Jul'",
            "labelFontWeight": {"condition": {"test": "month(datum.value) == 0", "value": "bold"}, "value": "normal"},
            "grid": false, "ticks": false, "domain": false,
            "labelPadding": 9, "labelFontSize": 12.5, "labelColor": "#131722",
            "labelFont": "Lato", "labelOverlap": false, "labelFlush": false
          }
        },
        "x2": {"datum": {"year": 2026, "month": 10, "date": 8}}
      }
    },
    {
      "data": {"name": "vgrid"},
      "mark": {"type": "rule", "color": "#f0f3fa", "strokeWidth": 1},
      "encoding": {
        "x": {"field": "t", "type": "temporal"},
        "y": {"datum": 3.391},
        "y2": {"datum": 21.332}
      }
    },
    {
      "data": {"values": [{}]},
      "mark": {"type": "rect", "fill": "#d9efda", "stroke": "#a4aaa5", "strokeWidth": 1},
      "encoding": {
        "x": {"datum": {"year": 2021, "month": 2, "date": 23, "hours": 12}, "type": "temporal"},
        "x2": {"datum": {"year": 2026, "month": 10, "date": 8}},
        "y": {"datum": 5.30, "type": "quantitative"},
        "y2": {"datum": 4.56}
      }
    },
    {
      "data": {"values": [{}]},
      "mark": {"type": "rule", "color": "#089981", "strokeWidth": 1, "strokeDash": [1, 3]},
      "encoding": {
        "x": {"datum": {"year": 2021, "month": 2, "date": 23, "hours": 12}, "type": "temporal"},
        "x2": {"datum": {"year": 2026, "month": 10, "date": 8}},
        "y": {"datum": 8.22, "type": "quantitative"}
      }
    },
    {
      "data": {"name": "candles"},
      "mark": {"type": "rule", "strokeWidth": 1},
      "encoding": {
        "x": {"field": "d", "type": "temporal"},
        "y": {"field": "l", "type": "quantitative"},
        "y2": {"field": "h"},
        "color": {"condition": {"test": "datum.c >= datum.o", "value": "#089981"}, "value": "#f23645"}
      }
    },
    {
      "data": {"name": "candles"},
      "mark": {"type": "bar", "size": 2.8},
      "encoding": {
        "x": {"field": "d", "type": "temporal"},
        "y": {"field": "o", "type": "quantitative"},
        "y2": {"field": "c"},
        "color": {"condition": {"test": "datum.c >= datum.o", "value": "#089981"}, "value": "#f23645"}
      }
    },
    {
      "data": {"name": "ema"},
      "transform": [{"filter": "datum.s == 'EMA 100'"}],
      "mark": {"type": "line", "color": "#7e57c2", "strokeWidth": 3, "interpolate": "monotone"},
      "encoding": {
        "x": {"field": "d", "type": "temporal"},
        "y": {"field": "v", "type": "quantitative"}
      }
    },
    {
      "data": {"name": "ema"},
      "transform": [{"filter": "datum.s == 'EMA 50'"}],
      "mark": {"type": "line", "color": "#fcc75a", "strokeWidth": 2.2, "interpolate": "monotone"},
      "encoding": {
        "x": {"field": "d", "type": "temporal"},
        "y": {"field": "v", "type": "quantitative"}
      }
    },
    {
      "data": {"name": "ema"},
      "transform": [{"filter": "datum.s == 'EMA 20'"}],
      "mark": {"type": "line", "color": "#2962ff", "strokeWidth": 1.1, "interpolate": "monotone"},
      "encoding": {
        "x": {"field": "d", "type": "temporal"},
        "y": {"field": "v", "type": "quantitative"}
      }
    },
    {
      "data": {"name": "trend"},
      "mark": {"type": "line", "color": "#2e3f8f", "strokeWidth": 2, "strokeDash": [7, 6], "interpolate": "monotone"},
      "encoding": {
        "x": {"field": "d", "type": "temporal"},
        "y": {"field": "v", "type": "quantitative"}
      }
    },
    {
      "data": {"values": [{}]},
      "layer": [
        {"mark": {"type": "rect", "fill": "#089981", "cornerRadius": 2},
         "encoding": {"x": {"datum": {"year": 2026, "month": 10, "date": 8}, "type": "temporal"}, "x2": {"datum": {"year": 2027, "month": 2, "date": 7}}, "y": {"datum": 8.493, "type": "quantitative"}, "y2": {"datum": 7.529}}},
        {"mark": {"type": "rect", "fill": "#d1313d", "cornerRadius": 2},
         "encoding": {"x": {"datum": {"year": 2026, "month": 10, "date": 8}, "type": "temporal"}, "x2": {"datum": {"year": 2027, "month": 1, "date": 7}}, "y": {"datum": 7.501, "type": "quantitative"}, "y2": {"datum": 7.047}}},
        {"mark": {"type": "rect", "fill": "#66bb6a", "cornerRadius": 2},
         "encoding": {"x": {"datum": {"year": 2026, "month": 10, "date": 8}, "type": "temporal"}, "x2": {"datum": {"year": 2027, "month": 1, "date": 7}}, "y": {"datum": 6.99, "type": "quantitative"}, "y2": {"datum": 6.508}}},
        {"mark": {"type": "rect", "fill": "#1e53e5", "cornerRadius": 2},
         "encoding": {"x": {"datum": {"year": 2026, "month": 10, "date": 8}, "type": "temporal"}, "x2": {"datum": {"year": 2027, "month": 1, "date": 7}}, "y": {"datum": 6.48, "type": "quantitative"}, "y2": {"datum": 5.998}}},
        {"mark": {"type": "rect", "fill": "#ffc43d", "cornerRadius": 2},
         "encoding": {"x": {"datum": {"year": 2026, "month": 10, "date": 8}, "type": "temporal"}, "x2": {"datum": {"year": 2027, "month": 1, "date": 7}}, "y": {"datum": 5.942, "type": "quantitative"}, "y2": {"datum": 5.488}}},
        {"mark": {"type": "rect", "fill": "#5b34b3", "cornerRadius": 2},
         "encoding": {"x": {"datum": {"year": 2026, "month": 10, "date": 8}, "type": "temporal"}, "x2": {"datum": {"year": 2027, "month": 1, "date": 7}}, "y": {"datum": 5.432, "type": "quantitative"}, "y2": {"datum": 4.95}}},
        {"mark": {"type": "text", "text": "8.22%", "align": "left", "baseline": "middle", "fontSize": 12.5, "color": "#ffffff"},
         "encoding": {"x": {"datum": {"year": 2026, "month": 10, "date": 23}, "type": "temporal"}, "y": {"datum": 8.266, "type": "quantitative"}}},
        {"mark": {"type": "text", "text": "11:20:48", "align": "left", "baseline": "middle", "fontSize": 12.5, "color": "#ffffff"},
         "encoding": {"x": {"datum": {"year": 2026, "month": 10, "date": 23}, "type": "temporal"}, "y": {"datum": 7.784, "type": "quantitative"}}},
        {"mark": {"type": "text", "text": "8.15%", "align": "left", "baseline": "middle", "fontSize": 12.5, "color": "#ffffff"},
         "encoding": {"x": {"datum": {"year": 2026, "month": 10, "date": 23}, "type": "temporal"}, "y": {"datum": 7.274, "type": "quantitative"}}},
        {"mark": {"type": "text", "text": "8.00%", "align": "left", "baseline": "middle", "fontSize": 12.5, "color": "#131722"},
         "encoding": {"x": {"datum": {"year": 2026, "month": 10, "date": 23}, "type": "temporal"}, "y": {"datum": 6.749, "type": "quantitative"}}},
        {"mark": {"type": "text", "text": "7.71%", "align": "left", "baseline": "middle", "fontSize": 12.5, "color": "#ffffff"},
         "encoding": {"x": {"datum": {"year": 2026, "month": 10, "date": 23}, "type": "temporal"}, "y": {"datum": 6.239, "type": "quantitative"}}},
        {"mark": {"type": "text", "text": "7.54%", "align": "left", "baseline": "middle", "fontSize": 12.5, "color": "#131722"},
         "encoding": {"x": {"datum": {"year": 2026, "month": 10, "date": 23}, "type": "temporal"}, "y": {"datum": 5.715, "type": "quantitative"}}},
        {"mark": {"type": "text", "text": "7.46%", "align": "left", "baseline": "middle", "fontSize": 12.5, "color": "#ffffff"},
         "encoding": {"x": {"datum": {"year": 2026, "month": 10, "date": 23}, "type": "temporal"}, "y": {"datum": 5.191, "type": "quantitative"}}},
        {"mark": {"type": "rect", "fill": "#ffffff", "stroke": "#e0e3eb", "cornerRadius": 4},
         "encoding": {"x": {"datum": {"year": 2026, "month": 10, "date": 17}, "type": "temporal"}, "x2": {"datum": {"year": 2027, "month": 2, "date": 9}}, "y": {"datum": 21.22, "type": "quantitative"}, "y2": {"datum": 20.43}}},
        {"mark": {"type": "text", "text": "%", "align": "left", "baseline": "middle", "fontSize": 13, "color": "#131722"},
         "encoding": {"x": {"datum": {"year": 2026, "month": 11, "date": 3}, "type": "temporal"}, "y": {"datum": 20.83, "type": "quantitative"}}},
        {"mark": {"type": "text", "text": "Crypto Total Market Cap Excluding Top 10 Dominance, % · 1D · CRYPTOCAP", "align": "left", "baseline": "middle", "fontSize": 12.8, "color": "#131722"},
         "encoding": {"x": {"datum": {"year": 2021, "month": 3, "date": 12}, "type": "temporal"}, "y": {"datum": 20.82, "type": "quantitative"}}},
        {"mark": {"type": "text", "text": "O", "align": "left", "baseline": "middle", "fontSize": 12.8, "color": "#131722"},
         "encoding": {"x": {"datum": {"year": 2023, "month": 5, "date": 28}, "type": "temporal"}, "y": {"datum": 20.82, "type": "quantitative"}}},
        {"mark": {"type": "text", "text": "8.17%", "align": "left", "baseline": "middle", "fontSize": 12.8, "color": "#089981"},
         "encoding": {"x": {"datum": {"year": 2023, "month": 6, "date": 15}, "type": "temporal"}, "y": {"datum": 20.82, "type": "quantitative"}}},
        {"mark": {"type": "text", "text": "H", "align": "left", "baseline": "middle", "fontSize": 12.8, "color": "#131722"},
         "encoding": {"x": {"datum": {"year": 2023, "month": 9, "date": 5}, "type": "temporal"}, "y": {"datum": 20.82, "type": "quantitative"}}},
        {"mark": {"type": "text", "text": "8.27%", "align": "left", "baseline": "middle", "fontSize": 12.8, "color": "#089981"},
         "encoding": {"x": {"datum": {"year": 2023, "month": 9, "date": 23}, "type": "temporal"}, "y": {"datum": 20.82, "type": "quantitative"}}},
        {"mark": {"type": "text", "text": "L", "align": "left", "baseline": "middle", "fontSize": 12.8, "color": "#131722"},
         "encoding": {"x": {"datum": {"year": 2023, "month": 11, "date": 30}, "type": "temporal"}, "y": {"datum": 20.82, "type": "quantitative"}}},
        {"mark": {"type": "text", "text": "8.05%", "align": "left", "baseline": "middle", "fontSize": 12.8, "color": "#089981"},
         "encoding": {"x": {"datum": {"year": 2023, "month": 12, "date": 15}, "type": "temporal"}, "y": {"datum": 20.82, "type": "quantitative"}}},
        {"mark": {"type": "text", "text": "C", "align": "left", "baseline": "middle", "fontSize": 12.8, "color": "#131722"},
         "encoding": {"x": {"datum": {"year": 2024, "month": 2, "date": 22}, "type": "temporal"}, "y": {"datum": 20.82, "type": "quantitative"}}},
        {"mark": {"type": "text", "text": "8.22%", "align": "left", "baseline": "middle", "fontSize": 12.8, "color": "#089981"},
         "encoding": {"x": {"datum": {"year": 2024, "month": 3, "date": 12}, "type": "temporal"}, "y": {"datum": 20.82, "type": "quantitative"}}},
        {"mark": {"type": "text", "text": "+0.05 (+0.59%)", "align": "left", "baseline": "middle", "fontSize": 12.8, "color": "#089981"},
         "encoding": {"x": {"datum": {"year": 2024, "month": 5, "date": 29}, "type": "temporal"}, "y": {"datum": 20.82, "type": "quantitative"}}},
        {"mark": {"type": "text", "text": "EB: EMA 5/10/20/50/100/150/200", "align": "left", "baseline": "middle", "fontSize": 12, "color": "#131722"},
         "encoding": {"x": {"datum": {"year": 2021, "month": 3, "date": 12}, "type": "temporal"}, "y": {"datum": 20.37, "type": "quantitative"}}},
        {"mark": {"type": "text", "text": "8.15%", "align": "left", "baseline": "middle", "fontSize": 12.8, "color": "#f23645"},
         "encoding": {"x": {"datum": {"year": 2022, "month": 3, "date": 18}, "type": "temporal"}, "y": {"datum": 20.37, "type": "quantitative"}}},
        {"mark": {"type": "text", "text": "8.00%", "align": "left", "baseline": "middle", "fontSize": 12.8, "color": "#4caf50"},
         "encoding": {"x": {"datum": {"year": 2022, "month": 6, "date": 15}, "type": "temporal"}, "y": {"datum": 20.37, "type": "quantitative"}}},
        {"mark": {"type": "text", "text": "7.71%", "align": "left", "baseline": "middle", "fontSize": 12.8, "color": "#2962ff"},
         "encoding": {"x": {"datum": {"year": 2022, "month": 8, "date": 30}, "type": "temporal"}, "y": {"datum": 20.37, "type": "quantitative"}}},
        {"mark": {"type": "text", "text": "7.54%", "align": "left", "baseline": "middle", "fontSize": 12.8, "color": "#ffb72b"},
         "encoding": {"x": {"datum": {"year": 2022, "month": 11, "date": 12}, "type": "temporal"}, "y": {"datum": 20.37, "type": "quantitative"}}},
        {"mark": {"type": "text", "text": "7.46%", "align": "left", "baseline": "middle", "fontSize": 12.8, "color": "#673ab7"},
         "encoding": {"x": {"datum": {"year": 2023, "month": 1, "date": 27}, "type": "temporal"}, "y": {"datum": 20.37, "type": "quantitative"}}},
        {"mark": {"type": "text", "text": "17", "align": "left", "baseline": "alphabetic", "fontSize": 27, "fontWeight": 900, "font": "Inter", "color": "#131722"},
         "encoding": {"x": {"datum": {"year": 2021, "month": 2, "date": 25}, "type": "temporal"}, "y": {"datum": 1.435, "type": "quantitative"}}},
        {"mark": {"type": "text", "text": "TradingView", "align": "left", "baseline": "alphabetic", "fontSize": 21.5, "fontWeight": 700, "font": "Inter", "color": "#131722"},
         "encoding": {"x": {"datum": {"year": 2021, "month": 5, "date": 12}, "type": "temporal"}, "y": {"datum": 1.435, "type": "quantitative"}}}
      ]
    }
  ]
}
